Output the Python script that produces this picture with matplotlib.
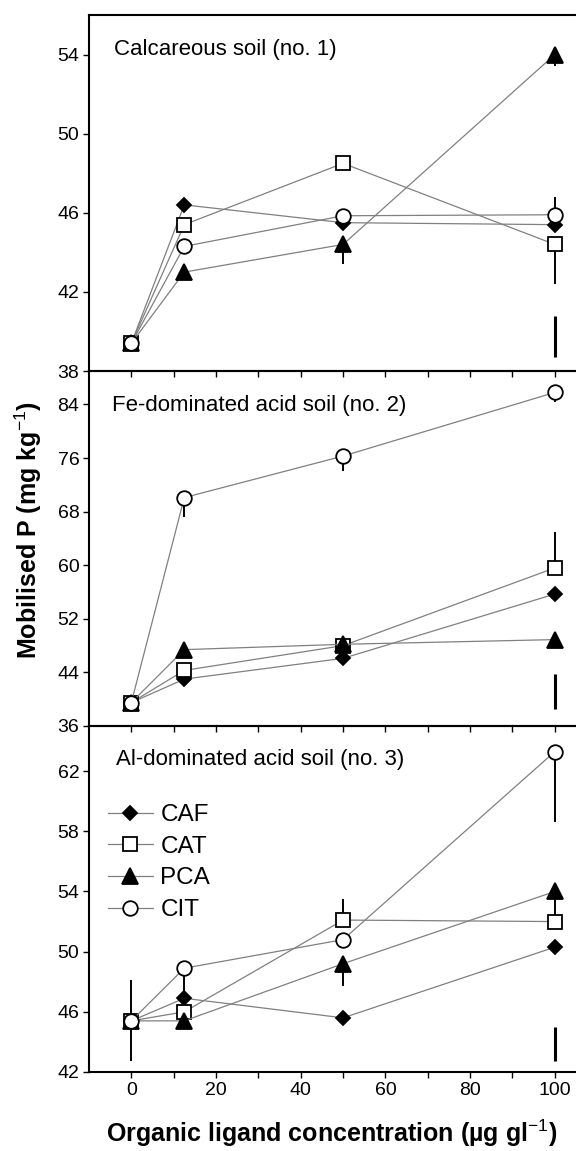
import numpy as np
import matplotlib
matplotlib.use("Agg")
import matplotlib.pyplot as plt

plt.rcParams['font.family'] = ['Liberation Sans', 'DejaVu Sans']
plt.rcParams['mathtext.fontset'] = 'custom'
plt.rcParams['mathtext.rm'] = 'Liberation Sans'
plt.rcParams['mathtext.bf'] = 'Liberation Sans:bold'

# ligand concentrations (x)
conc = [0, 12.5, 50, 100]
series = ["CAF", "CAT", "PCA", "CIT"]

# panel 1 - calcareous soil
caf_1 = [39.4, 46.4, 45.5, 45.4]
cat_1 = [39.4, 45.4, 48.5, 44.4]
pca_1 = [39.4, 43.0, 44.4, 54.0]
cit_1 = [39.4, 44.3, 45.85, 45.9]
# one sided error bars (down, up)
err_1 = {"CAT": ([0, 0, 0, 2.0], [0, 0, 0, 0]),
         "PCA": ([0, 0, 1.0, 0.6], [0, 0, 0, 0]),
         "CIT": ([0, 0, 0, 0], [0, 0, 0, 0.9])}
lsd_1 = (38.7, 40.8)

# panel 2 - Fe dominated acid soil
caf_2 = [39.5, 43.0, 46.1, 55.7]
cat_2 = [39.5, 44.3, 48.0, 59.6]
pca_2 = [39.5, 47.4, 48.2, 48.9]
cit_2 = [39.5, 70.1, 76.3, 85.8]
err_2 = {"CAT": ([0, 0, 0, 0], [0, 0, 0, 5.4]),
         "CIT": ([0, 2.9, 2.2, 1.5], [0, 0, 0, 0])}
lsd_2 = (38.5, 43.7)

# panel 3 - Al dominated acid soil
caf_3 = [45.4, 46.9, 45.6, 50.3]
cat_3 = [45.4, 46.0, 52.1, 52.0]
pca_3 = [45.4, 45.4, 49.2, 54.0]
cit_3 = [45.4, 48.9, 50.8, 63.3]
err_3 = {"CAF": ([2.7, 0, 0, 0], [2.7, 0, 0, 0]),
         "CAT": ([0, 0, 0, 0], [0, 0, 1.4, 0]),
         "PCA": ([0, 0, 1.5, 1.6], [0, 0, 0, 0]),
         "CIT": ([0, 1.5, 0, 4.7], [0, 0, 0, 0])}
lsd_3 = (42.7, 45.0)

titles = ["Calcareous soil (no. 1)", "Fe-dominated acid soil (no. 2)",
          "Al-dominated acid soil (no. 3)"]
ylims = [(38, 56), (36, 89), (42, 65)]
yticks = [[38, 42, 46, 50, 54], [36, 44, 52, 60, 68, 76, 84], [42, 46, 50, 54, 58, 62]]

styles = {"CAF": dict(marker="D", ms=7.5, mfc="black"),
          "CAT": dict(marker="s", ms=10, mfc="white"),
          "PCA": dict(marker="^", ms=11, mfc="black"),
          "CIT": dict(marker="o", ms=10.5, mfc="white")}

panels = [([caf_1, cat_1, pca_1, cit_1], err_1, lsd_1),
          ([caf_2, cat_2, pca_2, cit_2], err_2, lsd_2),
          ([caf_3, cat_3, pca_3, cit_3], err_3, lsd_3)]

W, H = 576, 1151
fig = plt.figure(figsize=(W / 100, H / 100), dpi=100)

# pixel boxes (top, bottom) of each panel
boxes = [(15, 371), (371, 726), (726, 1072)]
left = 89

axes = []
for i, (vals, errs, lsd) in enumerate(panels):
    top, bot = boxes[i]
    ax = fig.add_axes([left / W, 1 - bot / H, 1 - left / W, (bot - top) / H])
    axes.append(ax)
    handles = []
    for name, v in zip(series, vals):
        if name in errs:
            lo, up = errs[name]
            ax.errorbar(conc, v, yerr=[lo, up], fmt="none", ecolor="black",
                        elinewidth=1.4, capsize=0, zorder=2)
        h, = ax.plot(conc, v, color="#808080", lw=0.9, mec="black", mew=1.3,
                     zorder=3, label=name, **styles[name])
        handles.append(h)
    # LSD bar
    ax.vlines(100, lsd[0], lsd[1], color="black", lw=2.2, zorder=2)

    ax.set_xlim(-10, 105)
    ax.set_ylim(*ylims[i])
    ax.set_yticks(yticks[i])
    ax.set_xticks([0, 20, 40, 60, 80, 100])
    ax.set_xticks([10, 30, 50, 70, 90], minor=True)
    ax.tick_params(axis="both", direction="out", length=4, width=1, labelsize=14,
                   pad=3)
    ax.tick_params(axis="x", which="minor", direction="out", length=4, width=1)
    ax.spines["right"].set_visible(False)
    for s in ["left", "top", "bottom"]:
        ax.spines[s].set_linewidth(1.5)
    if i < 2:
        ax.tick_params(axis="x", labelbottom=False)
    ax.patch.set_alpha(0)

# panel titles
title_pos = [(114, 50), (112, 405), (116, 760)]
for t, (px, py) in zip(titles, title_pos):
    fig.text(px / W, 1 - py / H, t, fontsize=16, va="center", ha="left")

axes[2].legend(handles=handles, loc="upper left",
               bbox_to_anchor=(108 / W, 1 - 804 / H), bbox_transform=fig.transFigure,
               frameon=False, fontsize=17.5, handlelength=1.85, handletextpad=0.3,
               labelspacing=0.4, borderpad=0, borderaxespad=0)

fig.text(28 / W, 1 - 530 / H, r"Mobilised P (mg kg$^{-1}$)", rotation=90,
         fontsize=18, fontweight="bold", ha="center", va="center")
fig.text(332 / W, 1 - 1133 / H, "Organic ligand concentration (µg gl$^{-1}$)",
         fontsize=18, fontweight="bold", ha="center", va="center")

fig.savefig("out.png", dpi=100)
